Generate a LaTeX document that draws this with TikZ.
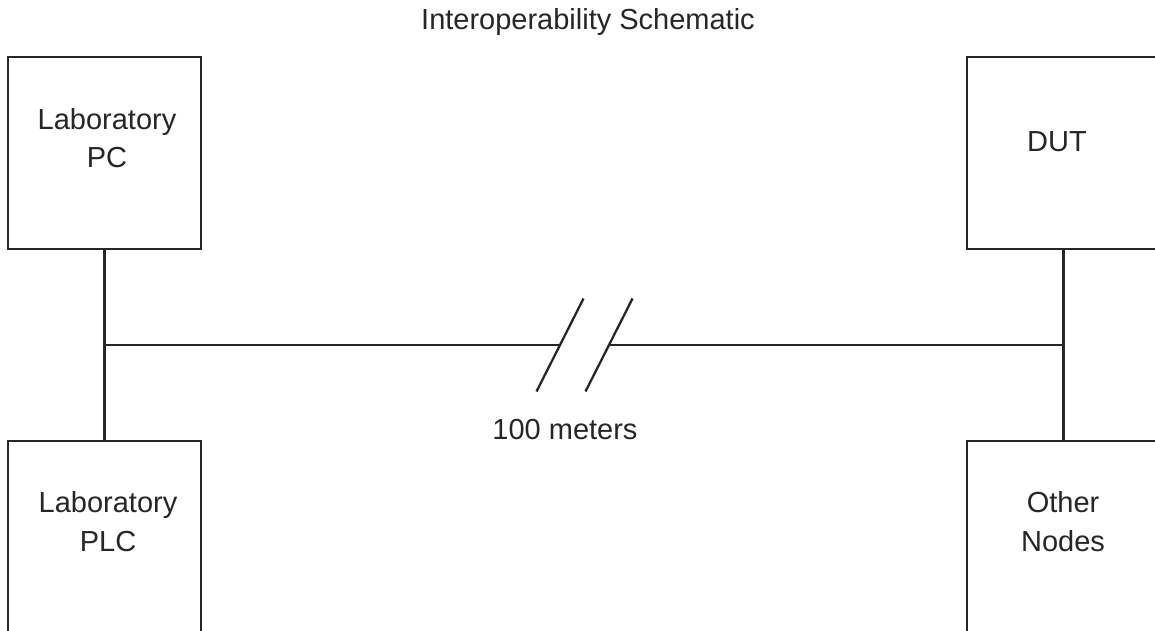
\documentclass[tikz,border=0pt]{standalone}
\usepackage{fontspec}
\setmainfont{Liberation Sans}

\begin{document}
\begin{tikzpicture}[
    x=1cm, y=1cm,
    unit/.style={rectangle, draw=black!85, line width=1.5pt, inner sep=0pt,
                 minimum width=3.86cm, minimum height=3.84cm},
    caption/.style={align=center, text=black!85, inner sep=0pt,
                    font=\fontsize{16.5}{22}\selectfont},
    wire/.style={draw=black!85, line width=1.3pt}
]

    % ============================================================
    % FRAME (the boxes run off the right and bottom edges)
    % ============================================================
    \useasboundingbox (0,0) rectangle (23.1,-12.62);
    \clip (0,0) rectangle (23.1,-12.62);

    \node[caption] (title) at (11.76,-0.44) {Interoperability Schematic};

    % ============================================================
    % DEVICES
    % ============================================================
    \node[unit] (labpc)  at (2.09,-3.06)  {};
    \node[unit] (labplc) at (2.09,-10.74) {};
    \node[unit] (dut)    at (21.27,-3.06) {};
    \node[unit] (others) at (21.27,-10.74) {};

    \node[caption] (labpctxt)  at (2.14,-2.76)  {Laboratory\\PC};
    \node[caption] (labplctxt) at (2.16,-10.43) {Laboratory\\PLC};
    \node[caption] (duttxt)    at (21.14,-2.84) {DUT};
    \node[caption] (otherstxt) at (21.26,-10.43) {Other\\Nodes};

    % ============================================================
    % BUS (with break for the long run)
    % ============================================================
    \coordinate (busl) at (labpc.south |- 0,-6.9);
    \coordinate (busr) at (dut.south |- 0,-6.9);
    \coordinate (brkl) at (11.2,-6.9);
    \coordinate (brkr) at (12.18,-6.9);

    \path[wire] (labpc.south) -- (labplc.north);
    \path[wire] (dut.south) -- (others.north);
    \path[wire] (busl) -- (brkl);
    \path[wire] (brkr) -- (busr);

    % break marks
    \path[wire] ([shift={(-0.47,-0.93)}]brkl) -- ([shift={(0.47,0.93)}]brkl);
    \path[wire] ([shift={(-0.47,-0.93)}]brkr) -- ([shift={(0.47,0.93)}]brkr);

    \node[caption] (dist) at (11.3,-8.6) {100 meters};

\end{tikzpicture}
\end{document}
